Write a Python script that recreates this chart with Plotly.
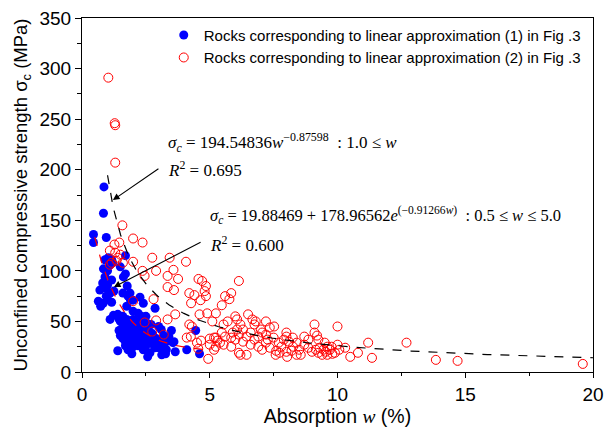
import numpy as np
import plotly.graph_objects as go

# ---- Data ----
blue_x = [0.45,0.45,0.86,0.84,0.95,1.7,1.5,1.7,1.62,0.9,1.03,1.16,1.1,1.2,0.84,1.0,
          0.9,0.81,1.16,1.0,0.7,0.9,1.1,1.25,0.64,0.83,1.16,0.73,1.0,0.95,
          1.1,1.23,1.4,1.46,1.77,1.6,1.88,2.0,2.27,2.4,1.75,2.0,2.33,2.2,2.5,2.86,1.9,1.8,
          1.5,1.6,1.7,1.8,1.55,1.65,1.75,1.85,1.95,2.05,1.5,1.45,1.6,1.7,1.8,1.9,2.0,2.1,
          2.2,2.3,2.4,2.5,2.6,2.1,2.2,2.3,2.0,1.9,2.0,2.15,2.3,2.45,2.6,2.7,2.8,2.9,3.0,
          3.1,3.2,2.75,2.85,2.5,2.4,1.8,1.7,2.2,1.6,1.75,1.9,2.05,
          1.4,1.95,2.57,2.66,3.12,3.27,3.65,4.1,4.6,4.45,3.5,3.1,2.75,3.56,2.8,3.0,3.3,
          3.3,3.0,3.4,3.6,3.2,2.5,2.7]
blue_y = [136,128,183,157,133,115,104,97,94,111,113,111,106,108,102,100,
          94,88,91,86,81,83,78,80,70,68,69,65,72,75,
          52,56,57,52,85,78,78,71,74,68,65,60,55,58,55,63,71,75,
          50,47,45,43,42,40,38,36,34,33,36,41,33,30,28,31,40,45,
          42,38,35,32,30,28,26,30,25,48,52,50,47,44,41,38,35,33,30,
          28,25,28,24,26,22,22,26,35,55,52,42,37,
          21,18,15,19,17,18,20,22,18,41,41,42,38,29,29,24,22,
          30,45,35,30,36,49,47]

red_x = [1.03,1.28,1.3,1.3,1.58,2.0,2.37,1.46,1.27,1.09,1.3,1.4,1.16,1.09,1.6,2.0,2.75,3.43,4.07,1.5,1.35,
         2.37,2.45,2.9,3.58,3.35,3.76,3.35,3.6,4.56,4.7,4.85,6.14,2.0,2.8,3.65,2.45,2.9,3.35,2.75,3.2,
         4.2,4.27,4.4,4.64,4.8,4.85,4.6,4.9,4.2,4.26,4.1,4.5,4.66,4.94,4.3,4.55,
         5.1,5.24,5.47,5.6,5.77,5.84,5.54,5.7,6.0,6.07,6.2,6.5,6.67,6.75,6.3,6.6,
         5.17,5.4,5.84,6.14,6.44,6.75,7.05,7.35,7.52,7.27,7.7,8.0,8.25,8.7,8.86,9.1,9.1,9.25,9.5,9.77,
         10.0,10.3,10.5,10.8,11.2,11.35,12.7,13.85,14.7,19.6,
         6.14,6.2,6.44,7.05,7.35,7.58,7.73,8.0,8.03,8.4,8.56,8.86,9.0,9.25,9.4,9.54,9.6,9.7,9.9,10.07,
         10.0,9.3,8.26,7.8,7.2,6.9,6.6,5.84,5.54,5.24,5.17,5.0,5.24,5.47,5.6,5.9,6.07,6.9,7.2,7.5,
         8.1,8.4,8.7,8.0,7.2,6.8,5.0,5.3,6.3,6.0,7.0,7.6,8.2,9.15,9.45,9.6,9.8,9.2,8.5,7.9]
red_y = [291,246,244,207,145,132,128,128,126,120,118,113,108,106,108,109,113,113,109,116,110,
         100,95,100,101,95,92,84,81,92,90,85,90,70,72,57,49,51,52,40,37,
         78,68,76,71,80,75,57,58,47,35,34,29,31,13,45,23,
         50,58,66,75,72,78,47,50,55,52,47,57,52,47,42,39,
         34,29,34,37,35,32,39,44,45,32,29,35,34,35,32,47,39,32,29,25,
         45,24,15,19,29,14,29,12,11,8,
         19,17,17,22,24,17,19,20,15,17,17,24,20,19,17,20,17,22,19,22,
         27,24,25,25,29,25,27,25,27,25,22,27,34,39,35,39,42,35,37,34,
         30,29,27,39,50,50,33,31,30,32,42,21,21,22,22,25,18,36,22,32]

# fit coefficients shown in the chart
pow_a, pow_b = 194.54836, -0.87598
exp_a, exp_b, exp_c = 19.88469, 178.96562, -0.91266
pow_range = (1.0, 20.0)
exp_range = (0.5, 5.0)

wp = np.linspace(pow_range[0], pow_range[1], 300)
yp = pow_a * wp ** pow_b
we = np.linspace(exp_range[0], exp_range[1], 200)
ye = exp_a + exp_b * np.exp(exp_c * we)

SERIF = "Liberation Serif, Times New Roman, serif"
SANS = "Liberation Sans, Arial, sans-serif"

fig = go.Figure()
fig.add_trace(go.Scatter(x=blue_x, y=blue_y, mode="markers",
                         name="Rocks corresponding to linear approximation (1) in Fig .3",
                         marker=dict(symbol="circle", size=9, color="#0000FF",
                                     line=dict(width=0))))
fig.add_trace(go.Scatter(x=red_x, y=red_y, mode="markers",
                         name="Rocks corresponding to linear approximation (2) in Fig .3",
                         marker=dict(symbol="circle-open", size=9, color="#FF0000",
                                     line=dict(width=1, color="#FF0000"))))
fig.add_trace(go.Scatter(x=wp, y=yp, mode="lines", showlegend=False,
                         line=dict(color="black", width=1.2, dash="dash"), hoverinfo="skip"))
fig.add_trace(go.Scatter(x=we, y=ye, mode="lines", showlegend=False,
                         line=dict(color="#FF0000", width=1.2, dash="dash"), hoverinfo="skip"))

eq_font = dict(family=SERIF, size=17, color="black")
eq2_font = dict(family=SERIF, size=16.5, color="black")
ann = [
    dict(x=3.3, y=227, xref="x", yref="y", xanchor="left", yanchor="middle", showarrow=False,
         text="<i>σ<sub>c</sub></i> = 194.54836<i>w</i><sup>−0.87598</sup>  : 1.0 ≤ <i>w</i>", font=eq_font),
    dict(x=3.3, y=201, xref="x", yref="y", xanchor="left", yanchor="middle", showarrow=False,
         text="<i>R</i><sup>2</sup> = 0.695", font=eq_font),
    dict(x=4.95, y=155, xref="x", yref="y", xanchor="left", yanchor="middle", showarrow=False,
         text="<i>σ<sub>c</sub></i> = 19.88469 + 178.96562<i>e</i><sup>(−0.91266<i>w</i>)</sup>  : 0.5 ≤ <i>w</i> ≤ 5.0",
         font=eq2_font),
    dict(x=4.95, y=127, xref="x", yref="y", xanchor="left", yanchor="middle", showarrow=False,
         text="<i>R</i><sup>2</sup> = 0.600", font=eq_font),
    dict(x=1.21, y=170, xref="x", yref="y", ax=3.05, ay=202, axref="x", ayref="y",
         showarrow=True, arrowhead=2, arrowsize=1.2, arrowwidth=1.1, arrowcolor="black", text=""),
    dict(x=1.25, y=84, xref="x", yref="y", ax=4.7, ay=129, axref="x", ayref="y",
         showarrow=True, arrowhead=2, arrowsize=1.2, arrowwidth=1.1, arrowcolor="black", text=""),
]

fig.update_layout(
    width=604, height=432,
    margin=dict(l=82, r=11, t=18, b=60, autoexpand=False),
    paper_bgcolor="white", plot_bgcolor="white",
    font=dict(family=SANS, color="black"),
    showlegend=True,
    legend=dict(x=0.16, y=0.998, xanchor="left", yanchor="top",
                bgcolor="rgba(0,0,0,0)", font=dict(family=SANS, size=15, color="black"),
                tracegroupgap=0, itemwidth=30),
    annotations=ann,
)
fig.update_xaxes(range=[0, 20], dtick=5, tick0=0, showgrid=False, zeroline=False,
                 automargin=False,
                 showline=True, linecolor="black", linewidth=1.2, mirror=True,
                 ticks="outside", ticklen=5, tickcolor="black",
                 minor=dict(dtick=2.5, ticklen=3, ticks="outside", tickcolor="black"),
                 tickfont=dict(family=SANS, size=19),
                 title=dict(text="Absorption <i><span style='font-family:Liberation Serif'>w</span></i> (%)",
                            font=dict(family=SANS, size=19.5), standoff=4))
fig.update_yaxes(range=[0, 350], dtick=50, tick0=0, showgrid=False, zeroline=False,
                 automargin=False,
                 showline=True, linecolor="black", linewidth=1.2, mirror=True,
                 ticks="outside", ticklen=6, tickcolor="black",
                 minor=dict(dtick=25, ticklen=4, ticks="outside", tickcolor="black"),
                 tickfont=dict(family=SANS, size=19),
                 title=dict(text="Unconfined compressive strength σ<sub>c</sub> (MPa)",
                            font=dict(family=SANS, size=18.5), standoff=6))

fig.write_html("out.html", post_script="document.body.style.margin='0';",
               config={"displayModeBar": False})
